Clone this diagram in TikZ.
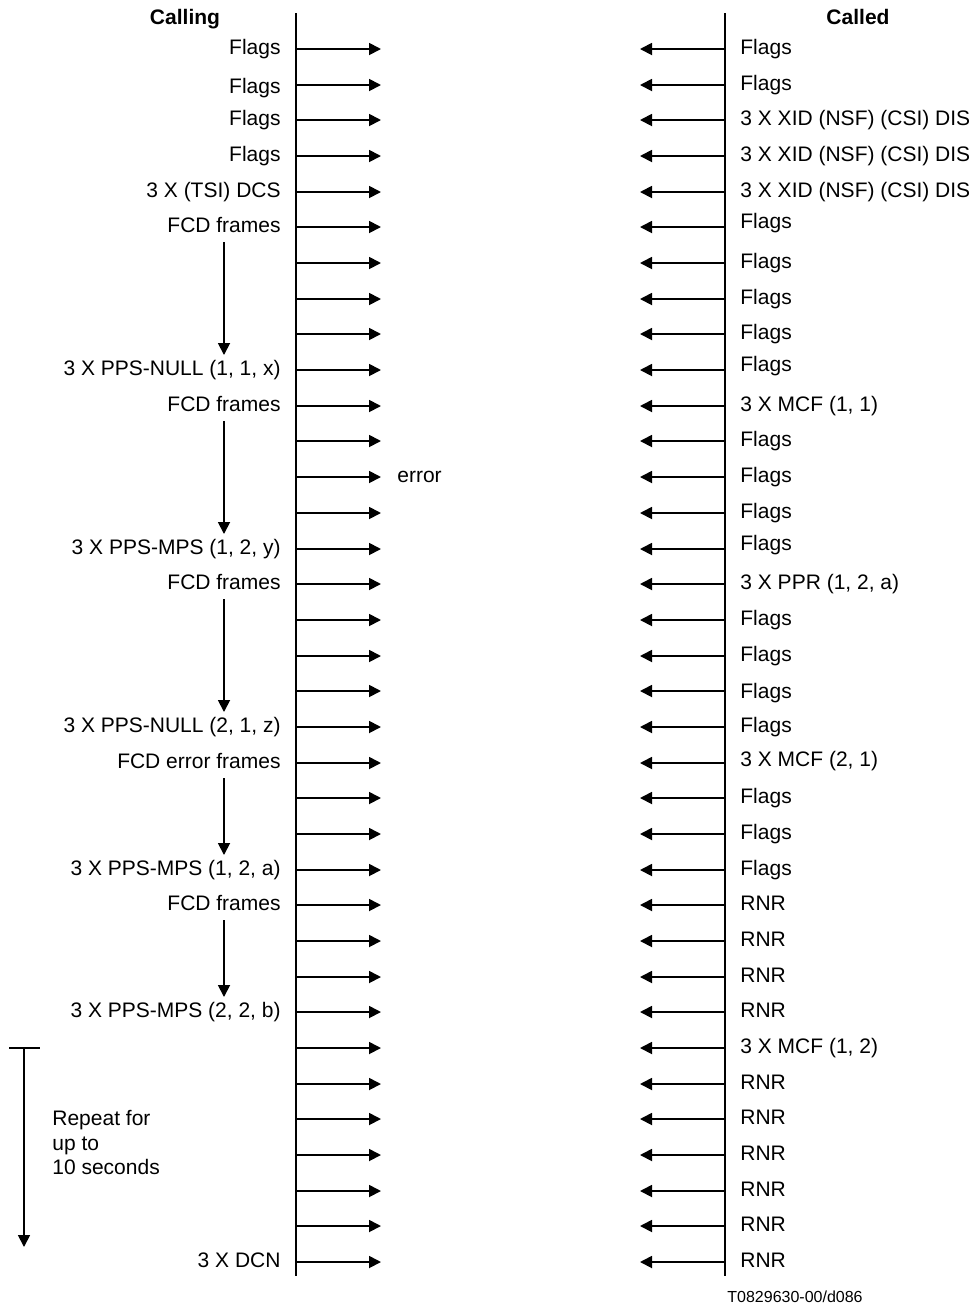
\documentclass[tikz,border=0pt]{standalone}
\usepackage{fontspec}
\setmainfont{Liberation Sans}
\usetikzlibrary{arrows.meta,positioning}

\begin{document}
\begin{tikzpicture}[x=0.5pt,y=-0.5pt,font=\fontsize{10.5}{12.6}\selectfont,
  >={Triangle[length=6pt,width=6pt]},
  life/.style={line width=1pt},
  msg/.style={line width=0.9pt,->},
  lbl/.style={inner xsep=0pt,inner ysep=2pt,text height=8pt,text depth=2.6pt}]
\useasboundingbox (0,0) rectangle (978,1308);
% the two stations
\coordinate (calTop) at (296,13); \coordinate (calBot) at (296,1276);
\coordinate (cldTop) at (725,13); \coordinate (cldBot) at (725,1276);
\draw[life] (calTop)--(calBot);
\draw[life] (cldTop)--(cldBot);
\node[lbl,font=\fontsize{10.5}{12.6}\selectfont\bfseries] (calling) at (185,19.5) {Calling};
\node[lbl,font=\fontsize{10.5}{12.6}\selectfont\bfseries] (called) at (858,19) {Called};
% one row per frame slot
\foreach \i in {1,...,35}{
  \pgfmathsetmacro\yy{round(49+(\i-1)*35.68)}
  \coordinate (L\i) at (296,\yy); \coordinate (Lt\i) at (381,\yy);
  \coordinate (R\i) at (725,\yy); \coordinate (Rt\i) at (640,\yy);
  \draw[msg] (L\i)--(Lt\i);
  \draw[msg] (R\i)--(Rt\i);
}
\foreach \i/\txt/\dy in {1/Flags/0,2/Flags/-1.5,3/Flags/0,4/Flags/0,5/{3 X (TSI) DCS}/0,
  6/FCD frames/0,10/{3 X PPS-NULL (1, 1, x)}/0,11/FCD frames/0,15/{3 X PPS-MPS (1, 2, y)}/0,
  16/FCD frames/0,20/{3 X PPS-NULL (2, 1, z)}/0,21/FCD error frames/0,24/{3 X PPS-MPS (1, 2, a)}/0,
  25/FCD frames/0,28/{3 X PPS-MPS (2, 2, b)}/0,35/3 X DCN/0}
  \node[lbl,anchor=east,xshift=-7.5pt,yshift=\dy pt] (lab\i) at (L\i) {\txt};
\foreach \i/\txt/\dy in {1/Flags/0,2/Flags/0,3/{3 X XID (NSF) (CSI) DIS}/0,4/{3 X XID (NSF) (CSI) DIS}/0,
  5/{3 X XID (NSF) (CSI) DIS}/0,6/Flags/2,7/Flags/0,8/Flags/0,9/Flags/0,10/Flags/2,
  11/{3 X MCF (1, 1)}/0,12/Flags/0,13/Flags/0,14/Flags/0,15/Flags/2,16/{3 X PPR (1, 2, a)}/0,
  17/Flags/0,18/Flags/0,19/Flags/-1,20/Flags/0,21/{3 X MCF (2, 1)}/1,22/Flags/0,23/Flags/0,24/Flags/0,
  25/RNR/0,26/RNR/0,27/RNR/0,28/RNR/0,29/{3 X MCF (1, 2)}/0,30/RNR/0,31/RNR/0,32/RNR/0,
  33/RNR/0,34/RNR/0,35/RNR/0}
  \node[lbl,anchor=west,xshift=7.5pt,yshift=\dy pt] (rab\i) at (R\i) {\txt};
\node[lbl,right=8pt of Lt13] (err) {error};
% frame bursts
\coordinate (dn) at (224,0);
\draw[msg] (lab6.south -| dn)--(lab10.north -| dn);
\draw[msg] (lab11.south -| dn)--(lab15.north -| dn);
\draw[msg] (lab16.south -| dn)--(lab20.north -| dn);
\draw[msg] (lab21.south -| dn)--(lab24.north -| dn);
\draw[msg] (lab25.south -| dn)--(lab28.north -| dn);
% repeat bracket
\coordinate (rpBarL) at (9,1048); \coordinate (rpBarR) at (40,1048);
\coordinate (rpTop) at (24,1048); \coordinate (rpEnd) at (24,1247);
\draw[line width=0.9pt] (rpBarL)--(rpBarR);
\draw[msg] (rpTop)--(rpEnd);
\node[anchor=west,align=left,inner sep=0pt,font=\fontsize{10.5}{12.25}\selectfont] (repeat) at (52,1142.5) {Repeat for\\up to\\10 seconds};
\node[inner sep=0pt,font=\fontsize{8}{9.6}\selectfont] (docid) at (795,1297) {T0829630-00/d086};
\end{tikzpicture}
\end{document}
